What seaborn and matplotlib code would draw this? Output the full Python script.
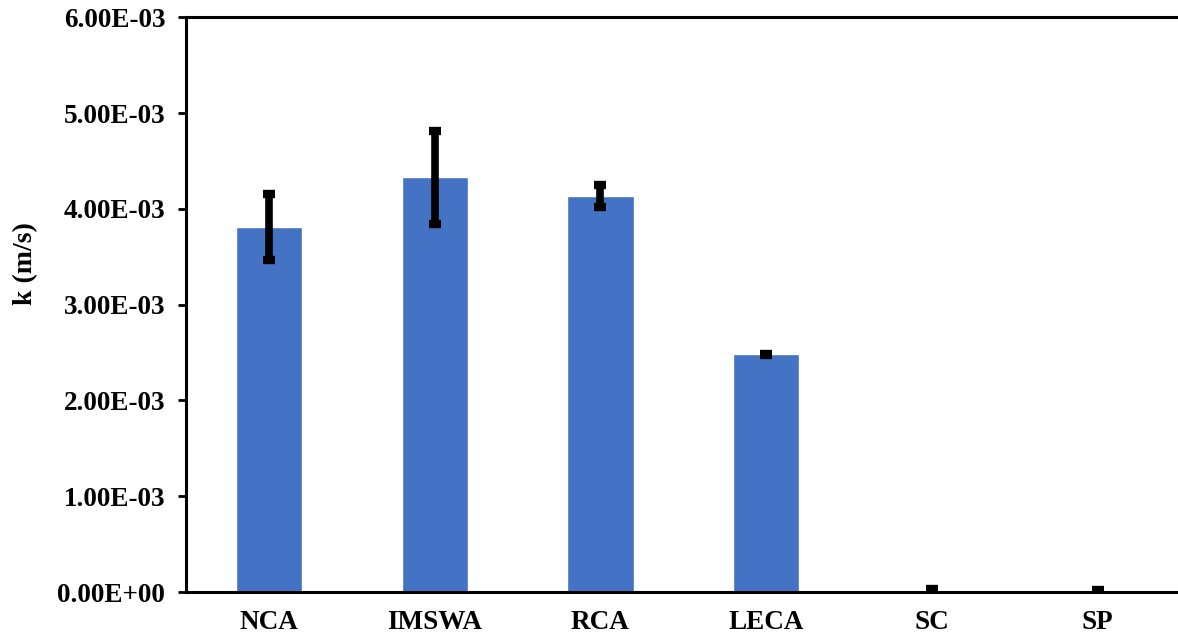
import numpy as np
import pandas as pd
import matplotlib
matplotlib.use("Agg")
import matplotlib.pyplot as plt
import seaborn as sns
from matplotlib.ticker import FuncFormatter, MultipleLocator

# data
materials = ["NCA", "IMSWA", "RCA", "LECA", "SC", "SP"]
k_values = [3.81e-3, 4.33e-3, 4.135e-3, 2.48e-3, 2.5e-5, 1.2e-5]
k_errors = [3.45e-4, 4.85e-4, 1.15e-4, 6e-6, 1e-5, 8e-6]

df = pd.DataFrame({"material": materials, "k": k_values, "err": k_errors})

sns.set_theme(style="white")
plt.rcParams["font.family"] = ["Liberation Serif", "DejaVu Serif"]
plt.rcParams["font.weight"] = "bold"

fig = plt.figure(figsize=(11.78, 6.38), dpi=100)
ax = fig.add_axes([0.158, 0.072, 0.844, 0.901])

sns.barplot(data=df, x="material", y="k", color="#4472C4", width=0.4,
            saturation=1, errorbar=None, ax=ax)
ax.errorbar(x=np.arange(len(materials)), y=df["k"], yerr=df["err"],
            fmt="none", ecolor="black", elinewidth=5.5, capsize=4.3,
            capthick=6)

ax.set_ylim(0, 6e-3)
ax.set_xlim(-0.5, len(materials) - 0.5)
ax.yaxis.set_major_locator(MultipleLocator(1e-3))
ax.yaxis.set_major_formatter(FuncFormatter(lambda v, p: f"{v:.2E}"))

ax.set_xlabel("")
ax.set_ylabel("k (m/s)", fontsize=20, fontweight="bold", color="black")
ax.yaxis.set_label_coords(-0.149, 0.572)

for s in ["left", "top", "bottom"]:
    ax.spines[s].set_visible(True)
    ax.spines[s].set_color("black")
    ax.spines[s].set_linewidth(2.2)
ax.spines["right"].set_visible(False)

ax.tick_params(axis="y", which="major", left=True, length=6, width=2,
               direction="out", pad=9, labelsize=19.5, colors="black")
ax.tick_params(axis="x", length=0, pad=13, labelsize=19.5, colors="black")
for lbl in ax.get_xticklabels() + ax.get_yticklabels():
    lbl.set_fontweight("bold")

fig.savefig("out.png", dpi=100)
